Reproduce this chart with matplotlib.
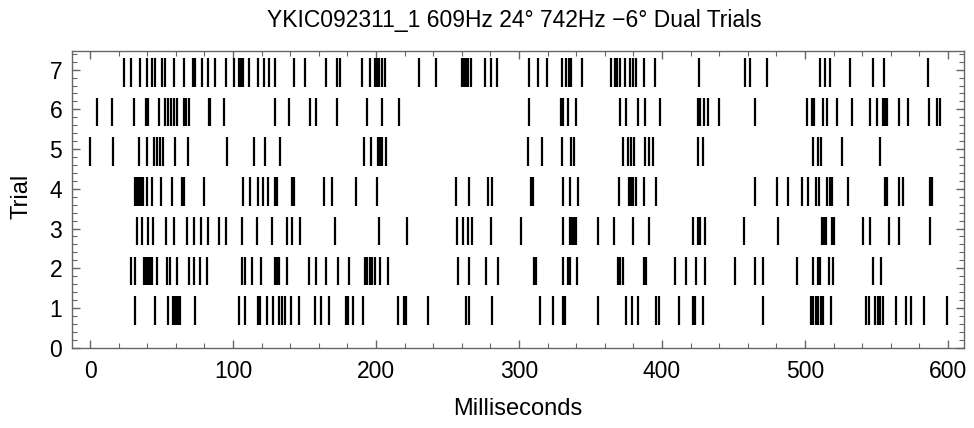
import matplotlib.pyplot as plt
from matplotlib.ticker import MultipleLocator

plt.rcParams['font.family'] = ['Liberation Sans', 'DejaVu Sans']

# spike times (ms) for each trial
trial_1 = [31.5, 45.6, 54.7, 58.2, 59.3, 60.5, 61.7, 63.1, 73.6, 104.4, 108.6, 117.3, 118.9, 123.6,
           128.3, 132.5, 134.1, 136.7, 140.7, 146.0, 157.0, 161.7, 167.0, 178.7, 180.4, 183.9, 190.9,
           215.4, 219.4, 220.8, 236.4, 262.8, 264.7, 280.8, 314.7, 324.0, 330.6, 332.5, 355.1, 375.0,
           379.0, 382.9, 395.8, 397.7, 412.1, 421.9, 423.4, 428.7, 470.8, 504.2, 505.8, 507.5, 509.1,
           511.0, 512.8, 518.0, 543.0, 544.6, 549.3, 550.9, 552.5, 554.2, 563.5, 570.5, 574.0, 583.4,
           599.1]
trial_2 = [28.5, 31.5, 37.8, 39.0, 40.4, 41.8, 43.2, 47.0, 53.5, 56.1, 60.7, 69.4, 72.9, 76.9, 81.5,
           106.3, 108.4, 113.1, 119.6, 129.2, 130.8, 132.5, 137.6, 152.8, 157.7, 164.7, 173.3, 180.8,
           192.1, 193.9, 195.6, 197.2, 199.5, 203.0, 208.4, 257.5, 265.2, 276.9, 285.5, 310.5, 311.9,
           330.6, 334.1, 335.7, 340.4, 368.9, 370.8, 372.4, 387.1, 388.8, 408.9, 417.0, 424.1, 430.4,
           450.9, 464.7, 470.8, 494.6, 505.6, 509.1, 510.7, 516.8, 519.9, 547.9, 553.0]
trial_3 = [33.2, 36.2, 40.7, 44.2, 53.0, 58.9, 67.8, 72.4, 77.6, 82.2, 90.4, 95.1, 106.1, 116.8, 127.3,
           137.6, 141.4, 147.0, 171.5, 201.9, 221.7, 256.8, 260.5, 264.5, 266.8, 280.4, 301.4, 331.1,
           335.7, 337.1, 338.5, 339.7, 355.1, 366.1, 379.7, 391.1, 421.7, 425.0, 426.6, 430.4, 457.2,
           481.3, 511.7, 513.3, 515.0, 518.7, 520.3, 540.9, 545.5, 558.8, 565.8, 587.4]
trial_4 = [31.3, 32.5, 33.6, 34.8, 36.2, 37.4, 39.5, 43.0, 49.5, 57.5, 64.0, 65.4, 79.4, 107.2, 112.1,
           117.8, 120.8, 124.3, 129.4, 131.1, 141.1, 142.8, 163.3, 169.4, 185.7, 201.0, 255.8, 264.9,
           278.0, 281.3, 308.4, 309.8, 330.6, 335.7, 341.1, 369.6, 377.1, 378.5, 379.9, 382.0, 387.6,
           395.8, 464.9, 480.6, 488.1, 498.1, 502.3, 507.9, 510.0, 515.7, 517.3, 518.7, 530.1, 555.8,
           557.2, 565.4, 568.4, 587.4, 589.0]
trial_5 = [0.0, 16.4, 34.3, 39.5, 44.6, 46.5, 48.6, 50.9, 59.6, 68.2, 95.6, 115.0, 122.7, 133.2, 191.6,
           196.7, 201.2, 202.6, 204.0, 207.2, 306.5, 315.9, 330.4, 336.2, 338.5, 372.4, 376.4, 378.0,
           380.1, 388.3, 391.1, 393.7, 425.0, 428.7, 505.6, 509.3, 511.0, 526.2, 552.5]
trial_6 = [5.1, 15.2, 30.8, 38.8, 40.7, 48.4, 52.6, 54.2, 56.5, 58.4, 60.7, 65.4, 67.1, 69.4, 82.9,
           84.1, 93.5, 129.7, 139.5, 153.5, 157.7, 172.7, 193.7, 204.4, 215.9, 307.0, 329.4, 331.1,
           334.6, 339.7, 370.3, 375.0, 382.9, 388.3, 398.4, 425.0, 426.4, 429.2, 432.2, 440.2, 464.7,
           501.6, 504.7, 506.5, 512.8, 515.7, 522.2, 532.7, 545.5, 550.2, 554.2, 555.6, 557.0, 565.4,
           571.7, 586.9, 592.3, 594.2]
trial_7 = [23.8, 28.5, 35.0, 39.7, 43.2, 45.6, 50.2, 52.1, 58.4, 65.4, 72.0, 73.6, 78.0, 82.2, 87.4,
           95.1, 100.5, 104.4, 105.6, 107.2, 111.4, 117.3, 121.5, 125.0, 129.4, 142.5, 150.0, 164.7,
           172.7, 174.5, 190.4, 195.6, 199.3, 200.5, 201.9, 204.4, 206.0, 229.9, 241.8, 260.3, 261.7,
           263.1, 264.5, 266.1, 276.2, 280.1, 284.8, 307.0, 313.5, 319.4, 329.9, 333.2, 334.8, 336.2,
           343.9, 364.2, 367.0, 368.5, 370.3, 374.3, 377.3, 379.9, 381.5, 387.1, 395.3, 426.2, 457.9,
           461.4, 473.1, 510.5, 513.8, 517.3, 531.5, 547.9, 554.9, 585.7]

trials = [trial_1, trial_2, trial_3, trial_4, trial_5, trial_6, trial_7]
trial_numbers = [1, 2, 3, 4, 5, 6, 7]

fig = plt.figure(figsize=(9.74, 4.28), dpi=100)
ax = fig.add_axes([72 / 974, (428 - 347.7) / 428, (964.3 - 72) / 974, (347.7 - 51) / 428])

# ticks sit a little below the row centre in the original, so nudge the bars down
offsets = [t - 0.065 for t in trial_numbers]
ax.eventplot(trials, lineoffsets=offsets, linelengths=0.72, linewidths=1.6, colors='black')

ax.set_xlim(-12.6, 611.4)
ax.set_ylim(0, 7.47)

# Mathematica-like frame: ticks inside on all four sides
ax.xaxis.set_major_locator(MultipleLocator(100))
ax.xaxis.set_minor_locator(MultipleLocator(20))
ax.yaxis.set_major_locator(MultipleLocator(1))
ax.yaxis.set_minor_locator(MultipleLocator(0.2))
ax.tick_params(which='both', direction='in', top=True, right=True, color='#666666', labelsize=16.5)
ax.tick_params(axis='x', pad=9)
ax.tick_params(axis='y', pad=7)
ax.tick_params(which='major', length=5.8, width=1.0)
ax.tick_params(which='minor', length=3.3, width=0.8)
for s in ax.spines.values():
    s.set_color('#666666')
    s.set_linewidth(1.0)

fig.text(514 / 974, 1 - 21 / 428, 'YKIC092311_1 609Hz 24° 742Hz \u22126° Dual Trials',
         ha='center', va='center', fontsize=16.5)
fig.text(518 / 974, 1 - 409 / 428, 'Milliseconds', ha='center', va='center', fontsize=17)
fig.text(22 / 974, 1 - 196 / 428, 'Trial', ha='center', va='center', rotation=90, fontsize=17)

fig.savefig('out.png', dpi=100)
